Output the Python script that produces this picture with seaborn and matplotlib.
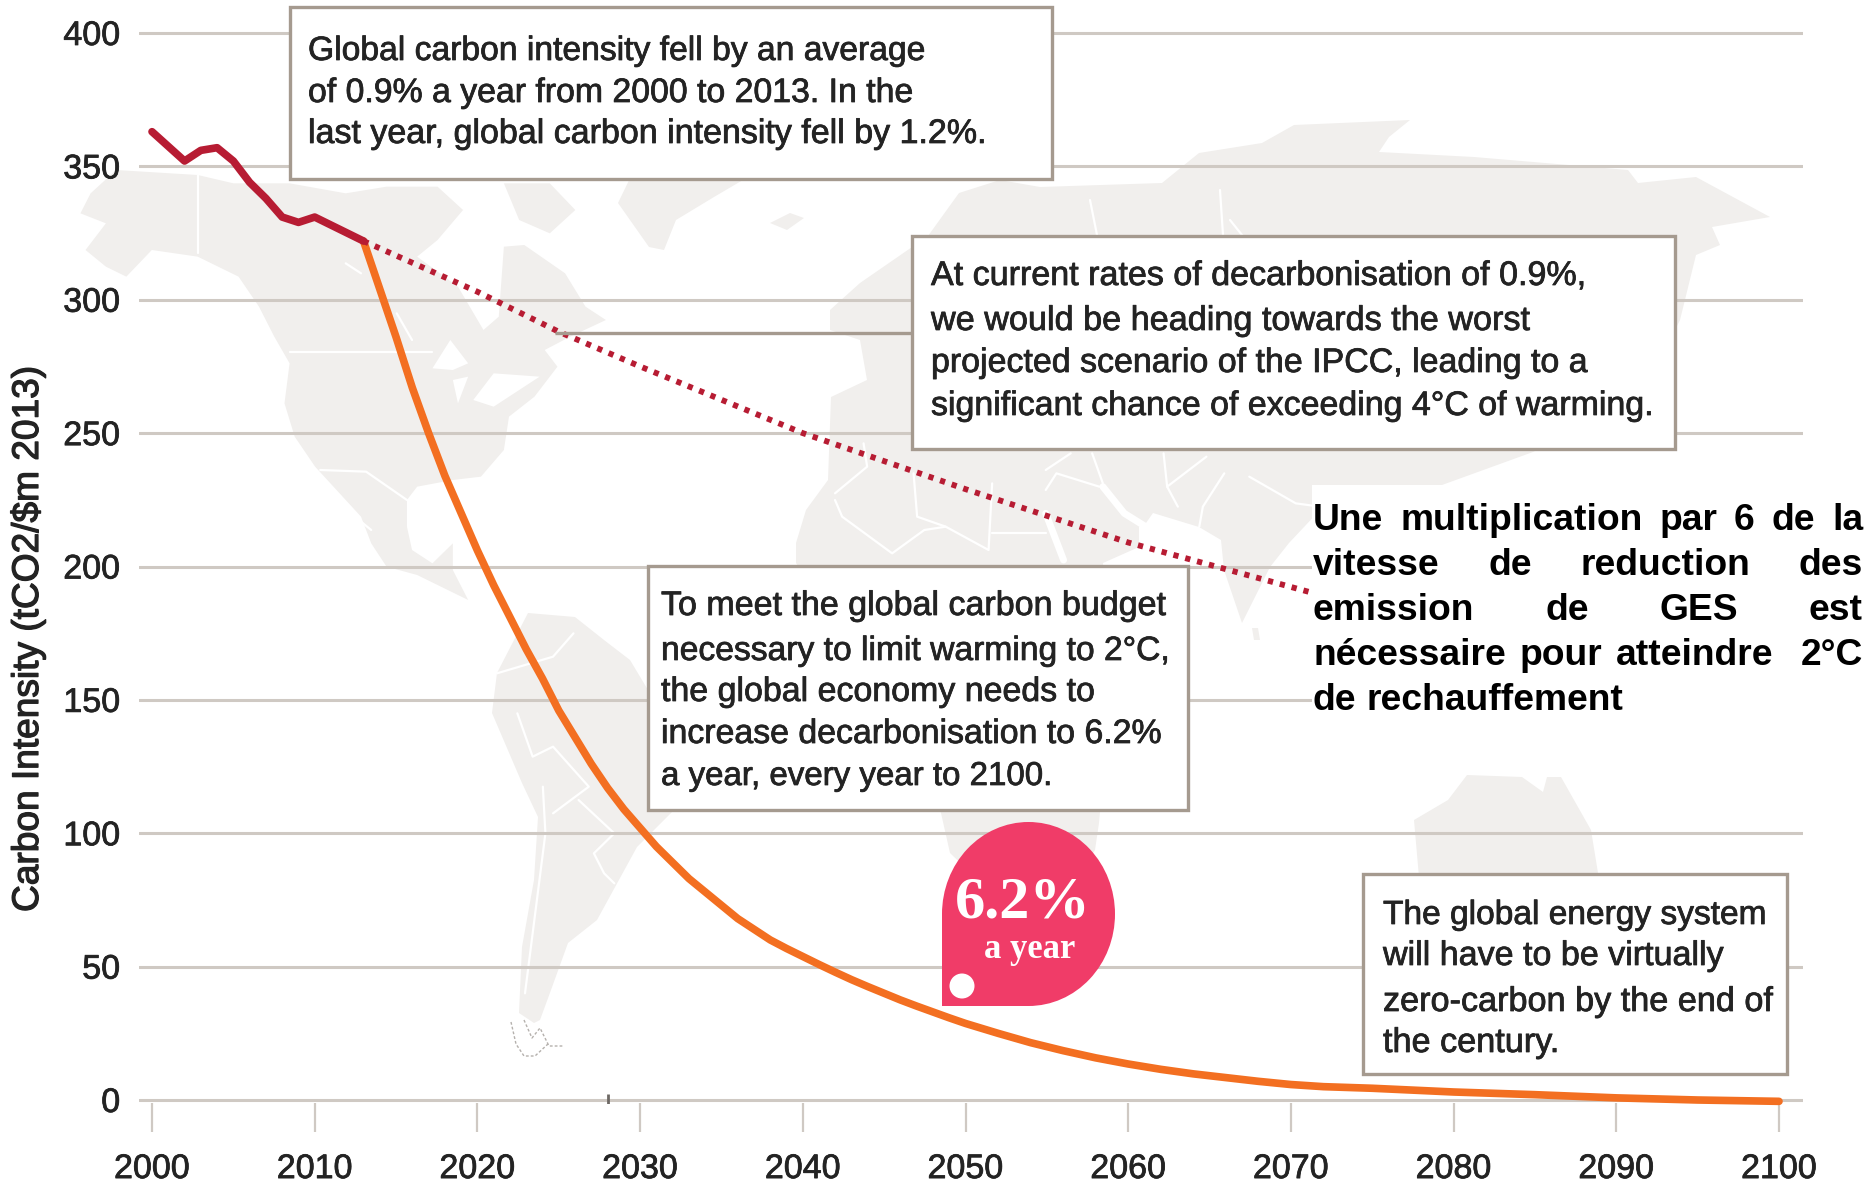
import matplotlib
matplotlib.use("Agg")
import matplotlib.pyplot as plt
import matplotlib.patheffects as pe
from matplotlib.patches import Polygon, Rectangle, Ellipse, Circle
import seaborn as sns

# ---------- data ----------
hist_years = [2000, 2001, 2002, 2003, 2004, 2005, 2006, 2007, 2008, 2009, 2010, 2011, 2012, 2013]
hist_values = [363, 357.5, 352, 356, 357, 352, 344, 338, 331, 329, 331, 328, 325, 322]
trend_years = [2013, 2020, 2025, 2030, 2040, 2050, 2055, 2060, 2072]
trend_values = [322, 303, 288, 275, 250, 229, 219, 209, 189]
path_years = [2013, 2014, 2015, 2016, 2017, 2018, 2019, 2020, 2021, 2022, 2023, 2024, 2025, 2026,
              2027, 2028, 2029, 2030, 2031, 2032, 2033, 2034, 2035, 2036, 2037, 2038, 2039, 2040,
              2041, 2042, 2043, 2044, 2045, 2046, 2047, 2048, 2049, 2050, 2052, 2054, 2056, 2058,
              2060, 2062, 2064, 2066, 2068, 2070, 2072, 2075, 2080, 2085, 2090, 2095, 2100]
path_values = [322, 304, 286, 267, 250, 234, 220, 206, 193, 181, 169, 158, 146, 136,
               126, 117, 109, 102, 95, 89, 83, 78, 73, 68, 64, 60, 56.8, 53.8,
               50.8, 47.9, 45.1, 42.5, 40, 37.5, 35.2, 33, 30.8, 28.7, 25, 21.5, 18.5, 15.8,
               13.5, 11.5, 9.8, 8.4, 7, 5.8, 5, 4.4, 3, 2, 0.8, 0, -0.5]
x_ticks = [2000, 2010, 2020, 2030, 2040, 2050, 2060, 2070, 2080, 2090, 2100]
y_ticks = [0, 50, 100, 150, 200, 250, 300, 350, 400]
y_label = "Carbon Intensity (tCO2/$m 2013)"

box1_lines = ["Global carbon intensity fell by an average",
              "of 0.9% a year from 2000 to 2013. In the",
              "last year, global carbon intensity fell by 1.2%."]
box2_lines = ["At current rates of decarbonisation of 0.9%,",
              "we would be heading towards the worst",
              "projected scenario of the IPCC, leading to a",
              "significant chance of exceeding 4°C of warming."]
box3_lines = ["To meet the global carbon budget",
              "necessary to limit warming to 2°C,",
              "the global economy needs to",
              "increase decarbonisation to 6.2%",
              "a year, every year to 2100."]
box4_lines = ["The global energy system",
              "will have to be virtually",
              "zero-carbon by the end of",
              "the century."]
french_lines = ["Une multiplication par 6 de la",
                "vitesse de reduction des",
                "emission de GES est",
                "nécessaire pour atteindre  2°C",
                "de rechauffement"]

# ---------- style ----------
W, H = 1870, 1185
GRID = "#cfc9c3"
FRAME = "#a59a8f"
LAND = "#f1efed"
INK = "#232323"
RED = "#b71c33"
ORANGE = "#f36f21"
PINK = "#f03c68"
sns.set_theme(style="white")
plt.rcParams["font.family"] = ["Liberation Sans", "DejaVu Sans"]
HEAVY = [pe.withStroke(linewidth=0.55, foreground=INK)]

fig = plt.figure(figsize=(W / 100, H / 100), dpi=100, facecolor="white")


def pixel_axes(z):
    a = fig.add_axes([0, 0, 1, 1], zorder=z)
    a.set_xlim(0, W)
    a.set_ylim(H, 0)
    a.axis("off")
    a.patch.set_alpha(0)
    return a


# ---------- faint world map behind the chart ----------
bg = pixel_axes(0)


def from_crop(points, x0, y0, sx):
    return [(x0 + x / sx, y0 + y / 3) for x, y in points]


def na(points):
    return from_crop(points, 60, 150, 1.96)


def afr(points):
    return from_crop(points, 760, 370, 2.8)


def sa(points):
    return from_crop(points, 400, 500, 1.96)


north_america = na([(60, 130), (110, 60), (270, 75), (340, 100), (450, 100), (560, 130), (640, 110),
                    (740, 110), (790, 180), (740, 270), (700, 320), (780, 410), (830, 540), (860, 500),
                    (870, 290), (910, 285), (990, 370), (1030, 470), (1070, 510), (1000, 560), (950, 600),
                    (975, 650), (930, 740), (880, 800), (870, 900), (825, 980), (770, 990), (700, 1010),
                    (680, 1050), (680, 1130), (690, 1200), (730, 1240), (770, 1180), (770, 1260),
                    (800, 1350), (760, 1320), (700, 1275), (640, 1250), (610, 1180), (590, 1100),
                    (530, 1000), (500, 950), (460, 860), (440, 760), (450, 640), (420, 560), (390, 470),
                    (350, 380), (270, 320), (180, 300), (130, 380), (90, 350), (50, 300), (90, 220), (40, 190)])
baffin = na([(870, 100), (960, 100), (1010, 180), (960, 250), (900, 210)])
greenland = [(634, 170), (760, 170), (714, 197), (676, 220), (664, 250), (649, 247), (618, 203)]
iceland = [(770, 223), (790, 213), (804, 218), (787, 230)]
south_america = [(528, 613), (575, 617), (604, 640), (630, 660), (648, 690), (672, 812), (637, 847), (597, 920),
                 (568, 943), (551, 990), (540, 1020), (534, 1023), (519, 1013), (522, 947), (534, 880), (538, 817),
                 (522, 783), (492, 713), (497, 673)]
old_world = [(796, 563), (796, 543), (806, 510), (828, 480), (831, 397), (867, 380), (860, 340), (830, 330),
             (830, 310), (860, 283), (928, 236), (959, 193), (1000, 180), (1040, 187), (1162, 183), (1199, 153),
             (1262, 143), (1294, 125), (1410, 120), (1389, 137), (1379, 152), (1474, 157), (1628, 170), (1638, 183),
             (1696, 177), (1770, 217), (1712, 227), (1720, 245), (1696, 255), (1680, 320), (1640, 400), (1533, 452),
             (1442, 485), (1442, 600), (1312, 600), (1320, 510), (1289, 543), (1270, 567), (1242, 623), (1224, 570),
             (1221, 540), (1199, 527), (1153, 513), (1146, 523), (1139, 527), (1139, 547), (1103, 563), (1110, 700),
             (1099, 823), (1095, 850), (1040, 940), (950, 853), (941, 813), (900, 720)]
sri_lanka = [(1252, 628), (1258, 628), (1260, 640), (1254, 640)]
australia = [(1467, 775), (1522, 777), (1543, 792), (1547, 777), (1561, 777), (1591, 830), (1598, 873), (1598, 900),
             (1421, 900), (1414, 820), (1448, 800)]
for shape in [north_america, baffin, greenland, iceland, south_america, old_world, sri_lanka, australia]:
    bg.add_patch(Polygon(shape, closed=True, facecolor=LAND, edgecolor="none"))
for lake in [na([(730, 655), (765, 570), (800, 640), (770, 660)]),
             na([(770, 690), (800, 680), (780, 760)]),
             na([(810, 750), (850, 670), (940, 680), (850, 770)])]:
    bg.add_patch(Polygon(lake, closed=True, facecolor="white", edgecolor="none"))
borders = [na([(270, 75), (270, 310)]),
           na([(450, 605), (730, 605)]),
           na([(510, 960), (600, 965), (680, 1050)]),
           na([(530, 1040), (610, 1140)]),
           na([(560, 340), (590, 370)]),
           na([(660, 490), (690, 570)]),
           na([(790, 150), (800, 240)]),
           afr([(210, 370), (300, 290), (290, 220)]),
           afr([(210, 390), (230, 440), (370, 550), (460, 480), (520, 470), (640, 540), (650, 340)]),
           afr([(430, 310), (440, 440), (520, 470)]),
           afr([(650, 490), (800, 490)]),
           afr([(1130, 250), (1140, 350), (1250, 260)]),
           afr([(1140, 350), (1170, 410)]),
           afr([(1300, 310), (1240, 410), (1230, 470)]),
           afr([(1370, 320), (1500, 400), (1568, 410)]),
           afr([(930, 250), (960, 340)]),
           afr([(800, 300), (870, 250)]),
           afr([(800, 360), (830, 310), (950, 350)]),
           [(1220, 190), (1226, 280)],
           [(1230, 220), (1258, 255)],
           [(1090, 200), (1100, 250)],
           sa([(190, 520), (300, 470), (340, 400)]),
           sa([(230, 640), (260, 770), (300, 740), (370, 860), (300, 940)]),
           sa([(350, 900), (420, 1000), (380, 1060), (400, 1120), (420, 1150)]),
           sa([(280, 860), (285, 1000), (260, 1300), (245, 1480)])]
for border in borders:
    bg.plot(*zip(*border), color="white", lw=1.6)
for strip in [afr([(960, 350), (1020, 430), (1080, 470)]), afr([(800, 430), (850, 570)])]:
    bg.plot(*zip(*strip), color="white", lw=5)
bg.plot([511, 516, 524, 535, 548], [1022, 1044, 1056, 1056, 1044], color="#b5b1ad", lw=1, ls=(0, (2, 1.5)))
bg.plot([524, 532, 540, 549, 564], [1020, 1038, 1028, 1046, 1046], color="#b5b1ad", lw=1, ls=(0, (2, 1.5)))

# ---------- main axes ----------
top_px, bottom_px, left_px, right_px = 30.33, 1102.67, 139, 1803
ax = fig.add_axes([left_px / W, 1 - bottom_px / H, (right_px - left_px) / W, (bottom_px - top_px) / H], zorder=1)
ax.patch.set_alpha(0)
ax.set_xlim(1999.2, 2101.475)
ax.set_ylim(-1, 401)

sns.lineplot(x=path_years, y=path_values, ax=ax, color=ORANGE, linewidth=5.5, errorbar=None, clip_on=False, zorder=3)
sns.lineplot(x=trend_years, y=trend_values, ax=ax, color=RED, linewidth=4.2, errorbar=None,
             linestyle=(0, (0.9, 1.2)), zorder=4)
sns.lineplot(x=hist_years, y=hist_values, ax=ax, color=RED, linewidth=5.5, errorbar=None, zorder=5)
ax.plot([2028], [0], marker="|", ms=9, mew=2, color="#6d6864", zorder=4)

sns.despine(ax=ax, left=True, bottom=True, top=True, right=True)
ax.set_xticks(x_ticks)
ax.set_yticks(y_ticks)
ax.yaxis.grid(True, color=GRID, lw=2.2, zorder=1)
ax.xaxis.grid(False)
ax.set_axisbelow(True)
ax.tick_params(axis="x", length=21, width=1.6, color=GRID, pad=16, labelsize=24.5, labelcolor=INK, bottom=True)
ax.tick_params(axis="y", length=0, pad=13.5, labelsize=24.5, labelcolor=INK)
for lab in ax.get_xticklabels() + ax.get_yticklabels():
    lab.set_path_effects(HEAVY)
ax.set_ylabel("")

# ---------- overlay: boxes and notes ----------
ov = pixel_axes(3)
renderer = fig.canvas.get_renderer()


def fitted_line(x, baseline, s, right, size=22.0, color=INK, **kw):
    t = ov.text(x, baseline, s, fontsize=size, color=color, va="baseline", ha="left", **kw)
    width = t.get_window_extent(renderer).width
    t.set_fontsize(size * (right - x) / width)
    return t


def note_box(left, top, right, bottom, lines, text_left, baselines, rights):
    ov.add_patch(Rectangle((left, top), right - left, bottom - top, facecolor="white", edgecolor=FRAME, lw=2.4, zorder=2))
    for s, b, r in zip(lines, baselines, rights):
        t = fitted_line(text_left, b, s, r)
        t.set_zorder(3)
        t.set_path_effects(HEAVY)


ov.plot([555, 912], [333, 333], color=FRAME, lw=2.4, solid_capstyle="butt", zorder=1)
note_box(290, 7, 1052, 179, box1_lines, 308, [60, 102, 143], [923, 913, 984])
note_box(912, 236, 1675, 449, box2_lines, 931, [285, 330, 372, 415], [1585, 1528, 1585, 1651])
note_box(648, 566, 1188, 810, box3_lines, 661, [615, 660, 701, 743, 785], [1164, 1168, 1093, 1160, 1052])
note_box(1363, 874, 1787, 1074, box4_lines, 1383, [924, 965, 1011, 1052], [1765, 1722, 1772, 1559])

# pink bubble
ov.add_patch(Ellipse((1028.5, 914), 173, 184, facecolor=PINK, edgecolor="none", zorder=2))
ov.add_patch(Rectangle((942, 914), 86, 92, facecolor=PINK, edgecolor="none", zorder=2))
ov.add_patch(Circle((962, 986), 12.5, facecolor="white", edgecolor="none", zorder=3))
fitted_line(955, 917, "6.2%", 1091, size=36, color="white", family="Liberation Serif", weight="bold").set_zorder(3)
fitted_line(984, 958, "a year", 1075, size=21, color="white", family="Liberation Serif", weight="bold").set_zorder(3)

# French comment on a white panel, justified
ov.add_patch(Rectangle((1312, 485), W - 1312, 290, facecolor="white", edgecolor="none", zorder=2))
fr_left, fr_right, fr_size = 1313, 1863, 26.8
fr_baselines = [530, 575, 620, 665, 710]
for i, (s, b) in enumerate(zip(french_lines, fr_baselines)):
    words = s.split()
    units = [2 if "  " + w in s else 1 for w in words[1:]]
    items = [ov.text(0, b, w, fontsize=fr_size, weight="bold", color="black", va="baseline", ha="left", zorder=3)
             for w in words]
    widths = [t.get_window_extent(renderer).width for t in items]
    if i < len(french_lines) - 1:
        gap = (fr_right - fr_left - sum(widths)) / sum(units)
    else:
        gap = fr_size * 0.278 * 100 / 72
    pos = fr_left
    for j, (t, wd) in enumerate(zip(items, widths)):
        t.set_x(pos)
        if j < len(units):
            pos += wd + gap * units[j]

# axis title, rotated
yl = ov.text(28, 912, y_label, fontsize=22, rotation=90, color=INK, ha="center", va="bottom",
             rotation_mode="default", path_effects=[pe.withStroke(linewidth=0.9, foreground=INK)])
yl.set_fontsize(22 * 545 / yl.get_window_extent(renderer).height)

fig.savefig("out.png", dpi=100)
